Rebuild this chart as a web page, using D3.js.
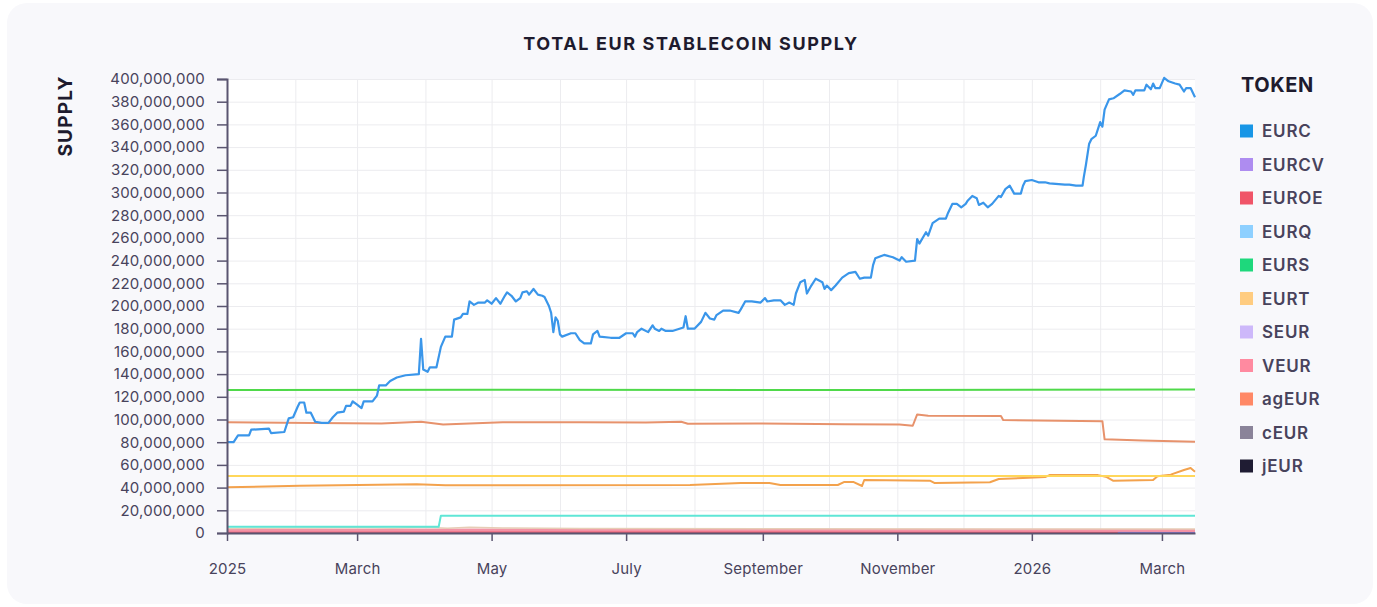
<!DOCTYPE html>
<html>
<head>
<meta charset="utf-8">
<script src="https://cdn.jsdelivr.net/npm/d3@7"></script>
<style>
  html, body { margin: 0; padding: 0; background: #ffffff; }
  body { width: 1377px; height: 607px; overflow: hidden; font-family: "Inter", "Noto Sans", sans-serif; }
  .grid line { stroke: #ececef; stroke-width: 1; }
  .grid .domain { display: none; }
  .axis text { fill: #48435c; font-size: 15px; font-family: "Inter", sans-serif; letter-spacing: 0.2px; }
  .axis line, .axis path { stroke: #5a5570; }
</style>
</head>
<body>
<svg id="chart" width="1377" height="607"></svg>
<script>
// supply in millions, x = days since 2025-01-01
var startDate = new Date(2025, 0, 1);
var endDate = new Date(2026, 2, 16);

var eurc = [[0,80],[3,80],[5,86],[10,86],[11,91],[19,92],[20,88],[26,89],[28,101],[30,102],[32,111],[33,115],[35,115],[36,106],[38,106],[40,98],[43,97],[46,97],[48,102],[50,106],[53,107],[54,112],[56,112],[57,116],[59,113],[61,110],[62,116],[66,116],[68,121],[69,130],[72,130],[74,134],[77,137],[81,139],[87,140],[88,171],[89,144],[91,142],[92,146],[95,146],[97,164],[99,173],[102,173],[103,188],[106,190],[107,193],[109,193],[110,204],[112,201],[114,203],[117,203],[118,205],[120,202],[122,207],[124,202],[126,209],[127,212],[129,209],[131,204],[133,207],[134,212],[136,213],[137,210],[139,215],[141,210],[143,209],[144,208],[146,200],[147,194],[148,177],[149,190],[150,187],[151,175],[152,173],[156,176],[158,176],[160,170],[162,167],[165,167],[166,175],[168,178],[169,173],[174,172],[178,172],[181,176],[184,176],[185,173],[186,177],[188,180],[191,177],[193,183],[194,180],[196,178],[197,180],[199,178],[202,178],[207,181],[208,191],[209,180],[212,180],[215,186],[217,194],[219,189],[221,188],[222,192],[225,196],[228,196],[232,194],[233,197],[235,204],[238,204],[242,203],[244,207],[245,204],[248,205],[251,205],[253,201],[255,203],[257,201],[258,211],[260,221],[262,223],[263,211],[265,218],[267,224],[270,221],[271,215],[272,218],[274,214],[276,218],[279,225],[282,229],[285,230],[287,224],[289,225],[292,225],[293,236],[294,242],[298,245],[302,243],[305,240],[306,243],[308,239],[312,240],[313,259],[314,255],[317,265],[318,262],[320,273],[323,277],[326,277],[327,282],[329,290],[331,290],[333,287],[335,290],[336,293],[338,297],[340,295],[341,289],[343,291],[345,287],[347,290],[350,297],[351,296],[353,303],[355,306],[357,299],[360,299],[361,306],[362,310],[365,311],[368,309],[371,309],[373,308],[380,307],[382,307],[385,306],[388,306],[388.6,314],[389.5,324],[391,343],[392,347],[394,350],[396,362],[397,358],[398,373],[400,382],[402,383],[405,387],[407,390],[410,389],[411,386],[412,390],[416,390],[417,395],[419,391],[420,396],[421,392],[423,392],[425,401],[427,398],[430,396],[432,395],[434,389],[435,392],[437,392],[439,384]];
var eurs = [[0,126],[120,126.3],[300,125.9],[439,126.4]];
var ageur = [[0,97.5],[40,97],[70,96.5],[88,98],[98,95.5],[110,96.5],[125,97.5],[160,97.5],[190,97.3],[206,98],[209,96.3],[240,96.5],[280,95.8],[305,95.5],[311,94.5],[313,104.5],[318,103.3],[351,103],[352,99.5],[397,98.5],[398,82.5],[415,81.5],[439,80.3]];
var eurtFlat = [[0,50.2],[439,50.2]];
var eurt = [[0,40.3],[33,41.7],[86,43],[99,42],[124,42],[210,42.3],[233,44],[246,44],[251,42.3],[277,42.3],[280,45],[284,45],[288,41.4],[289,46.7],[319,46],[321,44],[346,44.7],[350,47.6],[361,48.5],[371,49.3],[373,51],[395,51],[399,49.3],[402,46],[420,46.7],[422,50],[428,51.4],[434,55.5],[437,57.3],[439,54]];
var eurq = [[0,5.5],[96,5.5],[97,15.3],[439,15.3]];
var seurBeige = [[0,4],[40,4.3],[60,4.8],[75,4.2],[90,5],[100,4.2],[110,5],[125,4.4],[160,4],[250,3.8],[350,3.6],[439,3.5]];
var veur = [[0,2.4],[150,2.7],[300,2.5],[439,2.3]];
var euroe = [[0,1.3],[200,1.2],[405,1.1]];
var eurcv = [[404,0.9],[439,1.1]];
var ceur = [[0,0.3],[439,0.3]];
var jeur = [[0,0.05],[439,0.05]];

var lineSeries = [
  {name: "jEUR",  data: jeur,      color: "#2b2740", width: 1.5},
  {name: "cEUR",  data: ceur,      color: "#8a8399", width: 1.5},
  {name: "EUROE", data: euroe,     color: "#ec5a6e", width: 2.5},
  {name: "EURCV", data: eurcv,     color: "#8f7cdc", width: 2.5},
  {name: "VEUR",  data: veur,      color: "#f493a6", width: 3},
  {name: "SEUR",  data: seurBeige, color: "#e6cdb6", width: 1.5},
  {name: "EURQ",  data: eurq,      color: "#5fe6d6", width: 2},
  {name: "EURT",  data: eurt,      color: "#f3a24d", width: 2},
  {name: "EURT*", data: eurtFlat,  color: "#ffd75a", width: 2},
  {name: "agEUR", data: ageur,     color: "#e7926c", width: 2},
  {name: "EURS",  data: eurs,      color: "#4fd94a", width: 2},
  {name: "EURC",  data: eurc,      color: "#3a96ea", width: 2.2}
];

var legendTokens = ["EURC", "EURCV", "EUROE", "EURQ", "EURS", "EURT", "SEUR", "VEUR", "agEUR", "cEUR", "jEUR"];
var legendColors = ["#1896e6", "#ae8cf0", "#f05468", "#8ed0ff", "#1ed87c", "#ffcc80", "#cdb8fa", "#ff8aa0", "#ff8866", "#8a8399", "#1f1c33"];

var yTicks = d3.range(0, 400000001, 20000000);

var svg = d3.select("#chart");
var margin = {left: 227, right: 182, top: 79, bottom: 74};
var width = 1377, height = 607;

// card
svg.append("rect")
    .attr("x", 7).attr("y", 3)
    .attr("width", 1366).attr("height", 601)
    .attr("rx", 20)
    .attr("fill", "#f8f8fb");

var x = d3.scaleTime()
    .domain([startDate, endDate])
    .range([margin.left, width - margin.right]);

var y = d3.scaleLinear()
    .domain([0, 400000000])
    .range([height - margin.bottom, margin.top]);

svg.append("rect")
    .attr("x", x.range()[0]).attr("y", y(400000000))
    .attr("width", x.range()[1] - x.range()[0])
    .attr("height", y(0) - y(400000000))
    .attr("fill", "#ffffff");

// gridlines
svg.append("g")
    .attr("class", "grid")
    .attr("transform", "translate(0," + y(0) + ")")
    .call(d3.axisBottom(x).ticks(d3.timeMonth.every(1)).tickSize(-(y(0) - y(400000000))).tickFormat(""));

svg.append("g")
    .attr("class", "grid")
    .attr("transform", "translate(" + x.range()[0] + ",0)")
    .call(d3.axisLeft(y).tickValues(yTicks).tickSize(-(x.range()[1] - x.range()[0])).tickFormat(""));

var line = d3.line()
    .x(function (d) { return x(new Date(startDate.getTime() + d[0] * 864e5)); })
    .y(function (d) { return y(d[1] * 1e6); });

svg.append("g")
    .selectAll("path")
    .data(lineSeries)
    .enter().append("path")
    .attr("fill", "none")
    .attr("stroke", function (d) { return d.color; })
    .attr("stroke-width", function (d) { return d.width; })
    .attr("stroke-linejoin", "round")
    .attr("d", function (d) { return line(d.data); });

// axes
var monthName = d3.timeFormat("%B"), yearName = d3.timeFormat("%Y");
var xAxis = svg.append("g")
    .attr("class", "axis")
    .attr("transform", "translate(0," + y(0) + ")")
    .call(d3.axisBottom(x)
        .ticks(d3.timeMonth.every(2))
        .tickSize(8)
        .tickSizeOuter(0)
        .tickFormat(function (d) { return d.getMonth() === 0 ? yearName(d) : monthName(d); }));
xAxis.selectAll("text").attr("dy", "2em");
xAxis.select(".domain").attr("stroke-width", 2);
xAxis.selectAll(".tick line").attr("stroke-width", 1.5);

var yAxis = svg.append("g")
    .attr("class", "axis")
    .attr("transform", "translate(" + x.range()[0] + ",0)")
    .call(d3.axisLeft(y)
        .tickValues(yTicks)
        .tickSize(10)
        .tickSizeOuter(10)
        .tickPadding(12)
        .tickFormat(d3.format(",")));
yAxis.select(".domain").attr("stroke-width", 2);
yAxis.selectAll(".tick line").attr("stroke-width", 1.5);

// titles
svg.append("text")
    .attr("x", 691).attr("y", 50)
    .attr("text-anchor", "middle")
    .attr("font-size", 18).attr("font-weight", 700)
    .attr("letter-spacing", "1.6px")
    .attr("fill", "#1e1b2e")
    .text("TOTAL EUR STABLECOIN SUPPLY");

svg.append("text")
    .attr("transform", "translate(72,116) rotate(-90)")
    .attr("text-anchor", "middle")
    .attr("font-size", 19).attr("font-weight", 700)
    .attr("letter-spacing", "1.2px")
    .attr("fill", "#1e1b2e")
    .text("SUPPLY");

// legend
var legend = svg.append("g").attr("transform", "translate(1240,0)");
legend.append("text")
    .attr("x", 1).attr("y", 92)
    .attr("font-size", 20).attr("font-weight", 700)
    .attr("letter-spacing", "0.6px")
    .attr("fill", "#1e1b2e")
    .text("TOKEN");

var item = legend.selectAll("g.item")
    .data(legendTokens)
    .enter().append("g")
    .attr("class", "item")
    .attr("transform", function (d, i) { return "translate(0," + (131 + i * 33.5) + ")"; });

item.append("rect")
    .attr("x", 0).attr("y", -6.5)
    .attr("width", 13).attr("height", 13)
    .attr("fill", function (d, i) { return legendColors[i]; });

item.append("text")
    .attr("x", 22).attr("dy", "0.36em")
    .attr("font-size", 17).attr("font-weight", 600)
    .attr("letter-spacing", "0.8px")
    .attr("fill", "#48435c")
    .text(function (d) { return d; });
</script>
</body>
</html>
